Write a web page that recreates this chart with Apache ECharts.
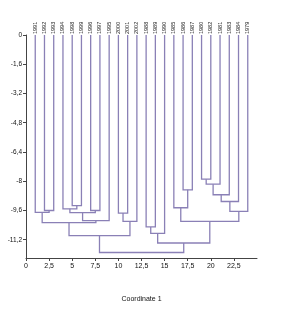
<!DOCTYPE html>
<html>
<head>
<meta charset="utf-8">
<script src="https://cdn.jsdelivr.net/npm/echarts@6/dist/echarts.min.js"></script>
<style>
html,body{margin:0;padding:0;background:#fff;}
#c{width:287px;height:317px;}
</style>
</head>
<body>
<div id="c"></div>
<script>
// Leaf labels (left to right, leaf i at x = i + 1)
const leafNames = ['1991','1992','1993','1994','1998','1999','1996','1997','1995','2000','2001','2002',
                   '1988','1989','1990','1985','1986','1987','1980','1982','1981','1983','1984','1979'];
// Merges: node ids 0..23 are leaves, merge k creates node 24 + k
const mergeA      = [1, 0, 4, 3, 6, 27, 29, 25, 9, 32, 31, 12, 35, 16, 15, 18, 39, 40, 41, 42, 38, 36, 34];
const mergeB      = [2, 24, 5, 26, 7, 28, 8, 30, 10, 11, 33, 13, 14, 17, 37, 19, 20, 21, 22, 23, 43, 44, 45];
const mergeHeight = [-9.6, -9.7, -9.34, -9.51, -9.6, -9.72, -10.15, -10.26, -9.74, -10.2, -10.98,
                     -10.5, -10.85, -8.47, -9.45, -7.89, -8.16, -8.74, -9.11, -9.65, -10.2, -11.38, -11.9];
// Axis ticks
const xTicks = [0, 2.5, 5, 7.5, 10, 12.5, 15, 17.5, 20, 22.5];
const yTicks = [0, -1.6, -3.2, -4.8, -6.4, -8, -9.6, -11.2];

const nodeX = leafNames.map((_, i) => i + 1);
const nodeY = leafNames.map(() => 0);
const segs = [];
for (let k = 0; k < mergeA.length; k++) {
  const a = mergeA[k], b = mergeB[k], h = mergeHeight[k];
  segs.push({coords: [[nodeX[a], nodeY[a]], [nodeX[a], h], [nodeX[b], h], [nodeX[b], nodeY[b]]]});
  nodeX.push((nodeX[a] + nodeX[b]) / 2);
  nodeY.push(h);
}
const fmt = v => String(v).replace('.', ',');
const font = 'Liberation Sans';
const chart = echarts.init(document.getElementById('c'), null, {renderer: 'canvas'});
chart.setOption({
  animation: false,
  backgroundColor: '#fff',
  grid: {left: 26, right: 30, top: 35, bottom: 59, containLabel: false, outerBoundsMode: 'none'},
  xAxis: [{
    type: 'value', min: 0, max: 25, position: 'bottom',
    name: 'Coordinate 1', nameLocation: 'middle', nameGap: 38,
    nameTextStyle: {fontFamily: font, fontSize: 7, color: '#111'},
    axisLine: {show: true, onZero: false, lineStyle: {color: '#444', width: 1}},
    axisTick: {show: true, length: 3, customValues: xTicks, lineStyle: {color: '#444'}},
    axisLabel: {customValues: xTicks, formatter: fmt, fontFamily: font, fontSize: 7, color: '#111', margin: 5},
    splitLine: {show: false}
  }, {
    type: 'value', min: 0, max: 25, position: 'top',
    axisLine: {show: false}, axisTick: {show: false}, splitLine: {show: false},
    axisLabel: {customValues: leafNames.map((_, i) => i + 1), formatter: v => leafNames[Math.round(v) - 1] || '',
      rotate: 90, fontFamily: font, fontSize: 5.5, color: '#222', margin: 1}
  }],
  yAxis: {
    type: 'value', min: -12.2, max: 0,
    name: 'Similarity', nameLocation: 'middle', nameGap: 17, nameRotate: 90,
    nameTextStyle: {fontFamily: font, fontSize: 7, color: '#111'},
    axisLine: {show: true, onZero: false, lineStyle: {color: '#444', width: 1}},
    axisTick: {show: true, length: 3, customValues: yTicks, lineStyle: {color: '#444'}},
    axisLabel: {customValues: yTicks, formatter: fmt, fontFamily: font, fontSize: 6.5, color: '#111', margin: 4},
    splitLine: {show: false}
  },
  series: [{
    type: 'lines', coordinateSystem: 'cartesian2d', polyline: true, silent: true,
    lineStyle: {color: '#8a80b6', width: 1.3, opacity: 1},
    data: segs
  }]
});
</script>
</body>
</html>
